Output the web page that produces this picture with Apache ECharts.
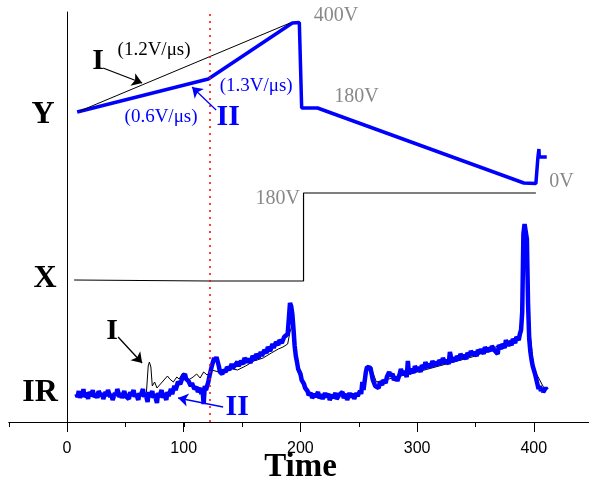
<!DOCTYPE html>
<html><head><meta charset="utf-8">
<script src="https://cdn.jsdelivr.net/npm/echarts@6/dist/echarts.min.js"></script>
<style>html,body{margin:0;padding:0;background:#fff}#c{width:589px;height:480px}</style>
</head><body><div id="c"></div>
<script>
// ---- data (time units, offset trace units) ----
const xTickValues = [0, 100, 200, 300, 400];
const markerTime = 122;
const yTraceI = [[11,313],[191,401]];
const yTraceII = [[8.6,312],[121,345],[193,401],[199,401.5],[201,316],[214.6,316],[391.4,241],[401.7,240.5],[403.4,266],[404.3,275],[404.6,267],[411,267]];
const xTrace = [[6,144],[122,143],[202.6,143],[202.6,231],[401.7,231]];
const irTraceI = [[8,29],[20,30],[40,29],[55,30],[66,29],[68,32],[69.5,58],[70.5,62],[71.8,57],[73,38],[75,42],[77,36],[80,40],[83,44],[86,48],[88,45],[91,42],[94,47],[96,45],[99,51],[101,48],[104,44],[108,47],[111,50],[114,46],[117,52],[120,49],[124,54],[130,52],[138,56],[146,54],[153,58],[160,63],[168,66],[175,71],[181,75],[185,77],[189,80],[191,92],[193,100],[195,70],[198,52],[203,36],[210,30],[250,29],[256,50],[260,58],[265,42],[300,52],[350,68],[388,88],[392,190],[395,110],[400,55],[410,33]];
const irTraceII = [[8,30],[9,27],[10,33],[11,26],[12,31],[13,28],[14,35],[15,27],[17,31],[18,25],[19,32],[21,28],[22,34],[23,27],[25,30],[26,26],[27,33],[29,28],[30,31],[31,25],[33,32],[34,28],[35,34],[37,27],[38,30],[39,24],[41,31],[42,28],[43,35],[45,27],[46,31],[47,26],[49,33],[50,28],[51,30],[53,25],[54,32],[55,28],[57,34],[58,27],[59,30],[61,24],[62,31],[63,28],[65,35],[66,27],[67,31],[69,22],[70,32],[71,27],[73,33],[74,26],[75,30],[77,21],[78,31],[79,27],[81,34],[82,26],[83,31],[85,24],[86,32],[87,28],[89,35],[90,30],[92,38],[93,34],[95,42],[97,40],[99,47],[101,50],[102,45],[104,43],[106,38],[107,41],[109,35],[111,37],[112,32],[114,36],[115,30],[116,35],[117,20],[118,38],[119,34],[121,42],[122,48],[124,58],[126,66],[127,63],[128,67],[130,58],[131,52],[133,50],[134,54],[136,52],[137,57],[139,54],[141,60],[142,56],[144,59],[146,62],[147,58],[149,63],[151,60],[152,66],[154,62],[156,65],[157,61],[159,68],[161,64],[162,70],[164,66],[166,72],[167,68],[169,74],[171,71],[172,77],[174,73],[176,80],[177,76],[179,82],[181,79],[182,84],[184,81],[186,87],[187,85],[189,90],[190,105],[191,121],[192,118],[193,110],[194,95],[195,78],[196,68],[197,62],[198,55],[200,50],[201,44],[203,40],[204,36],[206,33],[207,29],[209,31],[210,26],[212,30],[213,27],[215,32],[216,26],[218,29],[219,25],[221,31],[222,27],[224,30],[225,24],[227,29],[228,26],[230,31],[231,25],[233,29],[234,27],[236,32],[237,26],[239,30],[240,24],[242,31],[243,27],[245,30],[246,25],[248,31],[249,28],[251,33],[252,30],[253,42],[254,34],[256,52],[257,57],[258,59],[260,56],[261,50],[262,44],[264,38],[265,40],[267,36],[268,42],[270,39],[271,44],[273,41],[274,47],[276,52],[277,48],[279,50],[280,44],[282,47],[283,43],[285,50],[286,55],[288,49],[289,53],[291,47],[292,63],[293,50],[295,55],[297,51],[298,58],[300,53],[301,57],[303,52],[304,59],[306,55],[307,62],[309,56],[310,60],[312,57],[313,63],[315,58],[316,62],[318,59],[319,64],[321,60],[322,66],[324,61],[325,64],[327,60],[328,72],[330,62],[331,66],[333,63],[334,68],[336,64],[337,70],[339,66],[340,69],[342,65],[343,71],[345,68],[346,73],[348,69],[349,72],[351,68],[352,74],[354,71],[355,75],[357,70],[358,77],[360,72],[361,76],[363,73],[364,78],[366,74],[367,76],[369,70],[370,79],[372,75],[373,80],[375,76],[376,84],[378,78],[379,82],[381,79],[382,85],[384,81],[385,87],[387,84],[388,90],[389,94],[390,112],[391,190],[392,200],[393,202],[394,185],[395,120],[396,85],[397,72],[398,64],[399,58],[400,56],[401,50],[402,45],[403,40],[404,35],[405,38],[406,33],[407,36],[408,32],[410,36],[411,34]];

// ---- annotations (layout) ----
const annotations = [
  {text:'I', t:26.6, v:363, kind:'bigBlack'},
  {text:'(1.2V/\u03bcs)', t:74.5, v:374, kind:'rateBlack'},
  {text:'(1.3V/\u03bcs)', t:162, v:338, kind:'rateBlue'},
  {text:'(0.6V/\u03bcs)', t:80.5, v:307, kind:'rateBlue'},
  {text:'II', t:138, v:307, kind:'bigBlue'},
  {text:'400V', t:230.5, v:408, kind:'volt'},
  {text:'180V', t:248, v:327, kind:'volt'},
  {text:'0V', t:423.7, v:242, kind:'volt'},
  {text:'180V', t:180.4, v:225, kind:'volt'},
  {text:'I', t:38.6, v:93, kind:'bigBlack'},
  {text:'II', t:145.7, v:17, kind:'bigBlue'},
  {text:'Y', t:-20.6, v:309, kind:'axisName'},
  {text:'X', t:-18.9, v:145, kind:'axisName'},
  {text:'IR', t:-23.1, v:31, kind:'axisName'}
];
const arrows = [
  {from:[30.8,356], to:[64.3,341], color:'#000'},
  {from:[127.7,314], to:[107.1,337], color:'#0000ff'},
  {from:[43.7,87], to:[64.3,61], color:'#000'},
  {from:[133.7,17], to:[95.1,26], color:'#0000ff'}
];
const styles = {
  bigBlack: {font:'bold 30px "Liberation Serif"', fill:'#000'},
  bigBlue: {font:'bold 30px "Liberation Serif"', fill:'#0000ff'},
  rateBlack: {font:'19px "Liberation Serif"', fill:'#000'},
  rateBlue: {font:'19px "Liberation Serif"', fill:'#0000ff'},
  volt: {font:'20px "Liberation Serif"', fill:'#888'},
  axisName: {font:'bold 32px "Liberation Serif"', fill:'#000'}
};

const BLUE = '#0000ff';
const chart = echarts.init(document.getElementById('c'), null, {renderer:'canvas'});
const lineBase = {type:'line', showSymbol:false, symbol:'none', animation:false, xAxisIndex:0, yAxisIndex:0};
chart.setOption({
  animation:false,
  grid:[
    {left:8.75, top:12, width:583.5, height:410, outerBoundsMode:'none', containLabel:false},
    {left:67, top:12, width:525.15, height:410, outerBoundsMode:'none', containLabel:false}
  ],
  xAxis:[
    {gridIndex:0, type:'value', min:-50, max:450, interval:50,
     axisLine:{onZero:false, lineStyle:{color:'#000', width:1}},
     axisTick:{show:true, length:5, lineStyle:{color:'#000', width:1}},
     axisLabel:{show:false}, splitLine:{show:false},
     name:'Time', nameLocation:'middle', nameGap:29,
     nameTextStyle:{fontFamily:'Liberation Serif', fontWeight:'bold', fontSize:33, color:'#000'}},
    {gridIndex:1, type:'value', min:0, max:450, interval:100,
     axisLine:{show:false},
     axisTick:{show:true, length:10, lineStyle:{color:'#000', width:1}},
     axisLabel:{show:true, fontSize:16, color:'#000', fontFamily:'Liberation Sans', margin:19, showMaxLabel:false,
       formatter: v => xTickValues.indexOf(v) >= 0 ? String(v) : ''},
     splitLine:{show:false}}
  ],
  yAxis:[
    {gridIndex:0, type:'value', min:2, max:412,
     axisLine:{show:true, onZero:true, lineStyle:{color:'#000', width:1}},
     axisTick:{show:false}, axisLabel:{show:false}, splitLine:{show:false}},
    {gridIndex:1, type:'value', min:2, max:412, show:false}
  ],
  series:[
    Object.assign({}, lineBase, {data:yTraceI, lineStyle:{color:'#000', width:1}, z:3}),
    Object.assign({}, lineBase, {data:yTraceII, lineStyle:{color:BLUE, width:3.5}, z:2}),
    Object.assign({}, lineBase, {data:xTrace, lineStyle:{color:'#000', width:1.2}, z:2,
      markLine:{silent:true, symbol:['none','none'], label:{show:false},
        lineStyle:{color:'#ff0000', type:[2,5], width:1.5}, data:[{xAxis:markerTime}]}}),
    Object.assign({}, lineBase, {data:irTraceI, lineStyle:{color:'#000', width:1}, z:2}),
    Object.assign({}, lineBase, {data:irTraceII, lineStyle:{color:BLUE, width:4.5}, z:3,
      markLine:{silent:true, symbol:['none','arrow'], symbolSize:10, label:{show:false},
        data: arrows.map(a => [{coord:a.from, lineStyle:{color:a.color, width:1.3, type:'solid'}, itemStyle:{color:a.color}}, {coord:a.to}])}})
  ]
});
const graphics = annotations.map(a => {
  const p = chart.convertToPixel({xAxisIndex:0, yAxisIndex:0}, [a.t, a.v]);
  const s = styles[a.kind];
  return {type:'text', x:p[0], y:p[1], z:10, style:{text:a.text, font:s.font, fill:s.fill, align:'center', verticalAlign:'middle'}};
});
chart.setOption({graphic: graphics});
</script></body></html>
